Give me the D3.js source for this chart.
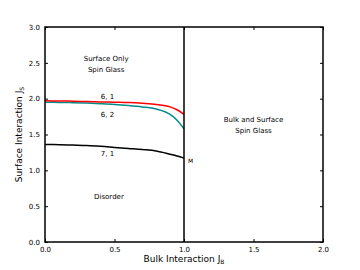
<!DOCTYPE html>
<html>
<head>
<meta charset="utf-8">
<script src="https://cdn.jsdelivr.net/npm/d3@7"></script>
<style>
  body { margin: 0; background: #fff; }
  text { font-family: "DejaVu Sans", sans-serif; fill: #000; }
</style>
</head>
<body>
<div id="chart"></div>
<script>
// phase boundary curves (bulk J_B vs surface J_S)
const bulkX = [0, 0.1, 0.2, 0.3, 0.4, 0.5, 0.6, 0.7, 0.8, 0.9, 0.95, 1.0];
const curve61 = [1.97, 1.968, 1.965, 1.96, 1.955, 1.95, 1.945, 1.935, 1.92, 1.885, 1.845, 1.78];
const curve62 = [1.95, 1.948, 1.944, 1.938, 1.93, 1.92, 1.905, 1.885, 1.855, 1.78, 1.7, 1.58];
const curve71 = [1.36, 1.358, 1.354, 1.345, 1.335, 1.32, 1.305, 1.29, 1.27, 1.225, 1.2, 1.17];
const xTicks = [0, 0.5, 1, 1.5, 2];
const yTicks = [0, 0.5, 1, 1.5, 2, 2.5, 3];

const width = 360, height = 270;
const margin = { left: 45, right: 37, top: 27, bottom: 28 };

const svg = d3.select("#chart").append("svg")
  .attr("width", width)
  .attr("height", height);

const x = d3.scaleLinear().domain([0, 2]).range([margin.left, width - margin.right]);
const y = d3.scaleLinear().domain([0, 3]).range([height - margin.bottom, margin.top]);

// curves
const line = d3.line().x((d, i) => x(bulkX[i])).y(d => y(d)).curve(d3.curveMonotoneX);
const series = [
  { vals: curve62, color: "#008b8b" },
  { vals: curve61, color: "#ff0000" },
  { vals: curve71, color: "#000000" }
];
series.forEach(s => {
  svg.append("path")
    .attr("d", line(s.vals))
    .attr("fill", "none")
    .attr("stroke", s.color)
    .attr("stroke-width", 1.5);
});

// vertical boundary at J_B = 1
svg.append("line")
  .attr("x1", x(1)).attr("x2", x(1))
  .attr("y1", y(0)).attr("y2", y(3))
  .attr("stroke", "#000").attr("stroke-width", 1.5);

// axes (ticks inward, on all sides)
const fmt = d3.format(".1f");
const axBottom = svg.append("g").attr("transform", "translate(0," + y(0) + ")")
  .call(d3.axisBottom(x).tickValues(xTicks).tickSizeInner(-3).tickSizeOuter(0).tickPadding(5).tickFormat(fmt));
const axLeft = svg.append("g").attr("transform", "translate(" + x(0) + ",0)")
  .call(d3.axisLeft(y).tickValues(yTicks).tickSizeInner(-3).tickSizeOuter(0).tickPadding(5).tickFormat(fmt));
const axTop = svg.append("g").attr("transform", "translate(0," + y(3) + ")")
  .call(d3.axisTop(x).tickValues(xTicks).tickSizeInner(-3).tickSizeOuter(0).tickFormat(""));
const axRight = svg.append("g").attr("transform", "translate(" + x(2) + ",0)")
  .call(d3.axisRight(y).tickValues(yTicks).tickSizeInner(-3).tickSizeOuter(0).tickFormat(""));

[axBottom, axLeft, axTop, axRight].forEach(g => {
  g.select(".domain").remove();
  g.selectAll("text").style("font-size", "7px").style("font-family", "DejaVu Sans");
});

// frame
svg.append("rect")
  .attr("x", x(0)).attr("y", y(3))
  .attr("width", x(2) - x(0)).attr("height", y(0) - y(3))
  .attr("fill", "none").attr("stroke", "#000").attr("stroke-width", 1.5);

// axis labels
const xl = svg.append("text")
  .attr("x", (x(0) + x(2)) / 2).attr("y", 262)
  .attr("text-anchor", "middle").style("font-size", "9px")
  .text("Bulk Interaction J");
xl.append("tspan").attr("dy", 2).style("font-size", "6px").text("B");

const yl = svg.append("text")
  .attr("transform", "translate(22," + ((y(0) + y(3)) / 2) + ") rotate(-90)")
  .attr("text-anchor", "middle").style("font-size", "9px")
  .text("Surface Interaction J");
yl.append("tspan").attr("dy", 2).style("font-size", "6px").text("S");

// annotations
function label(tx, ty, lines, size) {
  const t = svg.append("text")
    .attr("x", x(tx)).attr("y", y(ty))
    .attr("text-anchor", "middle").style("font-size", size + "px");
  lines.forEach((s, i) => {
    t.append("tspan").attr("x", x(tx)).attr("dy", i === 0 ? 0 : 11).text(s);
  });
}
label(0.44, 2.53, ["Surface Only", "Spin Glass"], 7);
label(1.5, 1.68, ["Bulk and Surface", "Spin Glass"], 7);
label(0.46, 0.6, ["Disorder"], 7);
label(0.45, 2.0, ["6, 1"], 7);
label(0.45, 1.75, ["6, 2"], 7);
label(0.45, 1.2, ["7, 1"], 7);

svg.append("text")
  .attr("x", x(1) + 4).attr("y", y(1.1))
  .style("font-size", "6px").text("M");
</script>
</body>
</html>
